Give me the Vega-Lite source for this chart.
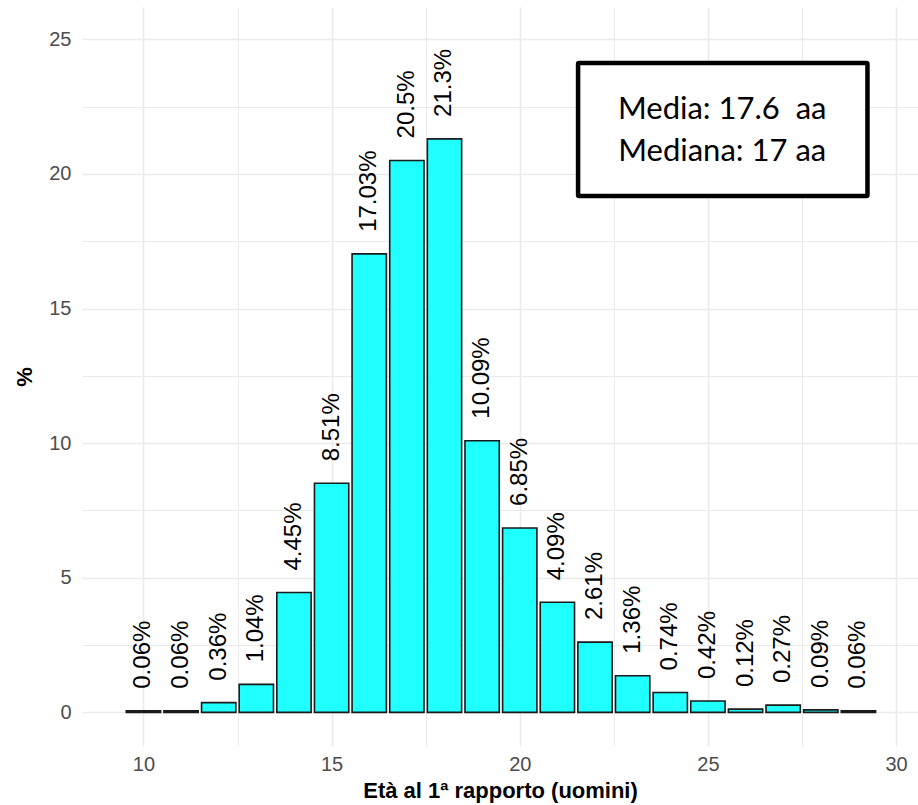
{
  "$schema": "https://vega.github.io/schema/vega-lite/v6.json",
  "width": 836,
  "height": 739,
  "autosize": {"type": "none"},
  "padding": {"left": 82, "top": 7, "right": 0, "bottom": 59},
  "background": "white",
  "config": {
    "view": {"stroke": null},
    "font": "Liberation Sans"
  },
  "datasets": {
    "bars": [
      {"age": 10, "pct": 0.06, "label": "0.06%"},
      {"age": 11, "pct": 0.06, "label": "0.06%"},
      {"age": 12, "pct": 0.36, "label": "0.36%"},
      {"age": 13, "pct": 1.04, "label": "1.04%"},
      {"age": 14, "pct": 4.45, "label": "4.45%"},
      {"age": 15, "pct": 8.51, "label": "8.51%"},
      {"age": 16, "pct": 17.03, "label": "17.03%"},
      {"age": 17, "pct": 20.5, "label": "20.5%"},
      {"age": 18, "pct": 21.3, "label": "21.3%"},
      {"age": 19, "pct": 10.09, "label": "10.09%"},
      {"age": 20, "pct": 6.85, "label": "6.85%"},
      {"age": 21, "pct": 4.09, "label": "4.09%"},
      {"age": 22, "pct": 2.61, "label": "2.61%"},
      {"age": 23, "pct": 1.36, "label": "1.36%"},
      {"age": 24, "pct": 0.74, "label": "0.74%"},
      {"age": 25, "pct": 0.42, "label": "0.42%"},
      {"age": 26, "pct": 0.12, "label": "0.12%"},
      {"age": 27, "pct": 0.27, "label": "0.27%"},
      {"age": 28, "pct": 0.09, "label": "0.09%"},
      {"age": 29, "pct": 0.06, "label": "0.06%"}
    ],
    "note": [
      {"text": ["Media: 17.6\u00a0 aa", "Mediana: 17 aa"]}
    ]
  },
  "layer": [
    {
      "data": {"name": "bars"},
      "mark": {"type": "bar", "orient": "vertical", "width": 34.3, "fill": "#20FFFF", "stroke": "#1a1a1a", "strokeWidth": 1.6},
      "encoding": {
        "x": {
          "field": "age", "type": "quantitative",
          "scale": {"domain": [8.5, 30.45], "nice": false, "zero": false},
          "axis": {
            "values": [10, 12.5, 15, 17.5, 20, 22.5, 25, 27.5, 30],
            "labelExpr": "datum.value % 5 == 0 ? datum.label : ''",
            "title": "Età al 1ª rapporto (uomini)",
            "titleFontSize": 22, "titleFontWeight": "bold", "titleColor": "#000000",
            "titlePadding": 6,
            "labelFontSize": 20, "labelColor": "#4D4D4D", "labelPadding": 8,
            "ticks": false, "domain": false,
            "grid": true, "gridColor": "#EBEBEB",
            "gridWidth": {"condition": {"test": "datum.value % 5 == 0", "value": 1.6}, "value": 1}
          }
        },
        "y": {
          "field": "pct", "type": "quantitative",
          "scale": {"domain": [-1.25, 26.2], "nice": false, "zero": false},
          "axis": {
            "values": [0, 2.5, 5, 7.5, 10, 12.5, 15, 17.5, 20, 22.5, 25],
            "labelExpr": "datum.value % 5 == 0 ? datum.label : ''",
            "title": "%",
            "titleFontSize": 22, "titleFontWeight": "bold", "titleColor": "#000000",
            "titlePadding": 12,
            "labelFontSize": 20, "labelColor": "#4D4D4D", "labelPadding": 11,
            "ticks": false, "domain": false,
            "grid": true, "gridColor": "#EBEBEB",
            "gridWidth": {"condition": {"test": "datum.value % 5 == 0", "value": 1.6}, "value": 1}
          }
        }
      }
    },
    {
      "data": {"name": "bars"},
      "mark": {"type": "text", "angle": 270, "align": "left", "baseline": "middle", "dx": 22, "fontSize": 24, "color": "#000000", "font": "Liberation Sans"},
      "encoding": {
        "x": {"field": "age", "type": "quantitative"},
        "y": {"field": "pct", "type": "quantitative"},
        "text": {"field": "label"}
      }
    },
    {
      "data": {"name": "note"},
      "mark": {"type": "rect", "fill": "white", "stroke": "#000000", "strokeWidth": 4.5, "cornerRadius": 1},
      "encoding": {
        "x": {"datum": 21.55, "type": "quantitative"},
        "x2": {"datum": 29.24},
        "y": {"datum": 24.12, "type": "quantitative"},
        "y2": {"datum": 19.18}
      }
    },
    {
      "data": {"name": "note"},
      "mark": {"type": "text", "align": "center", "baseline": "middle", "fontSize": 31, "lineHeight": 42, "font": "Lato", "color": "#000000"},
      "encoding": {
        "x": {"datum": 25.38, "type": "quantitative"},
        "y": {"datum": 22.37, "type": "quantitative"},
        "text": {"field": "text"}
      }
    }
  ]
}
